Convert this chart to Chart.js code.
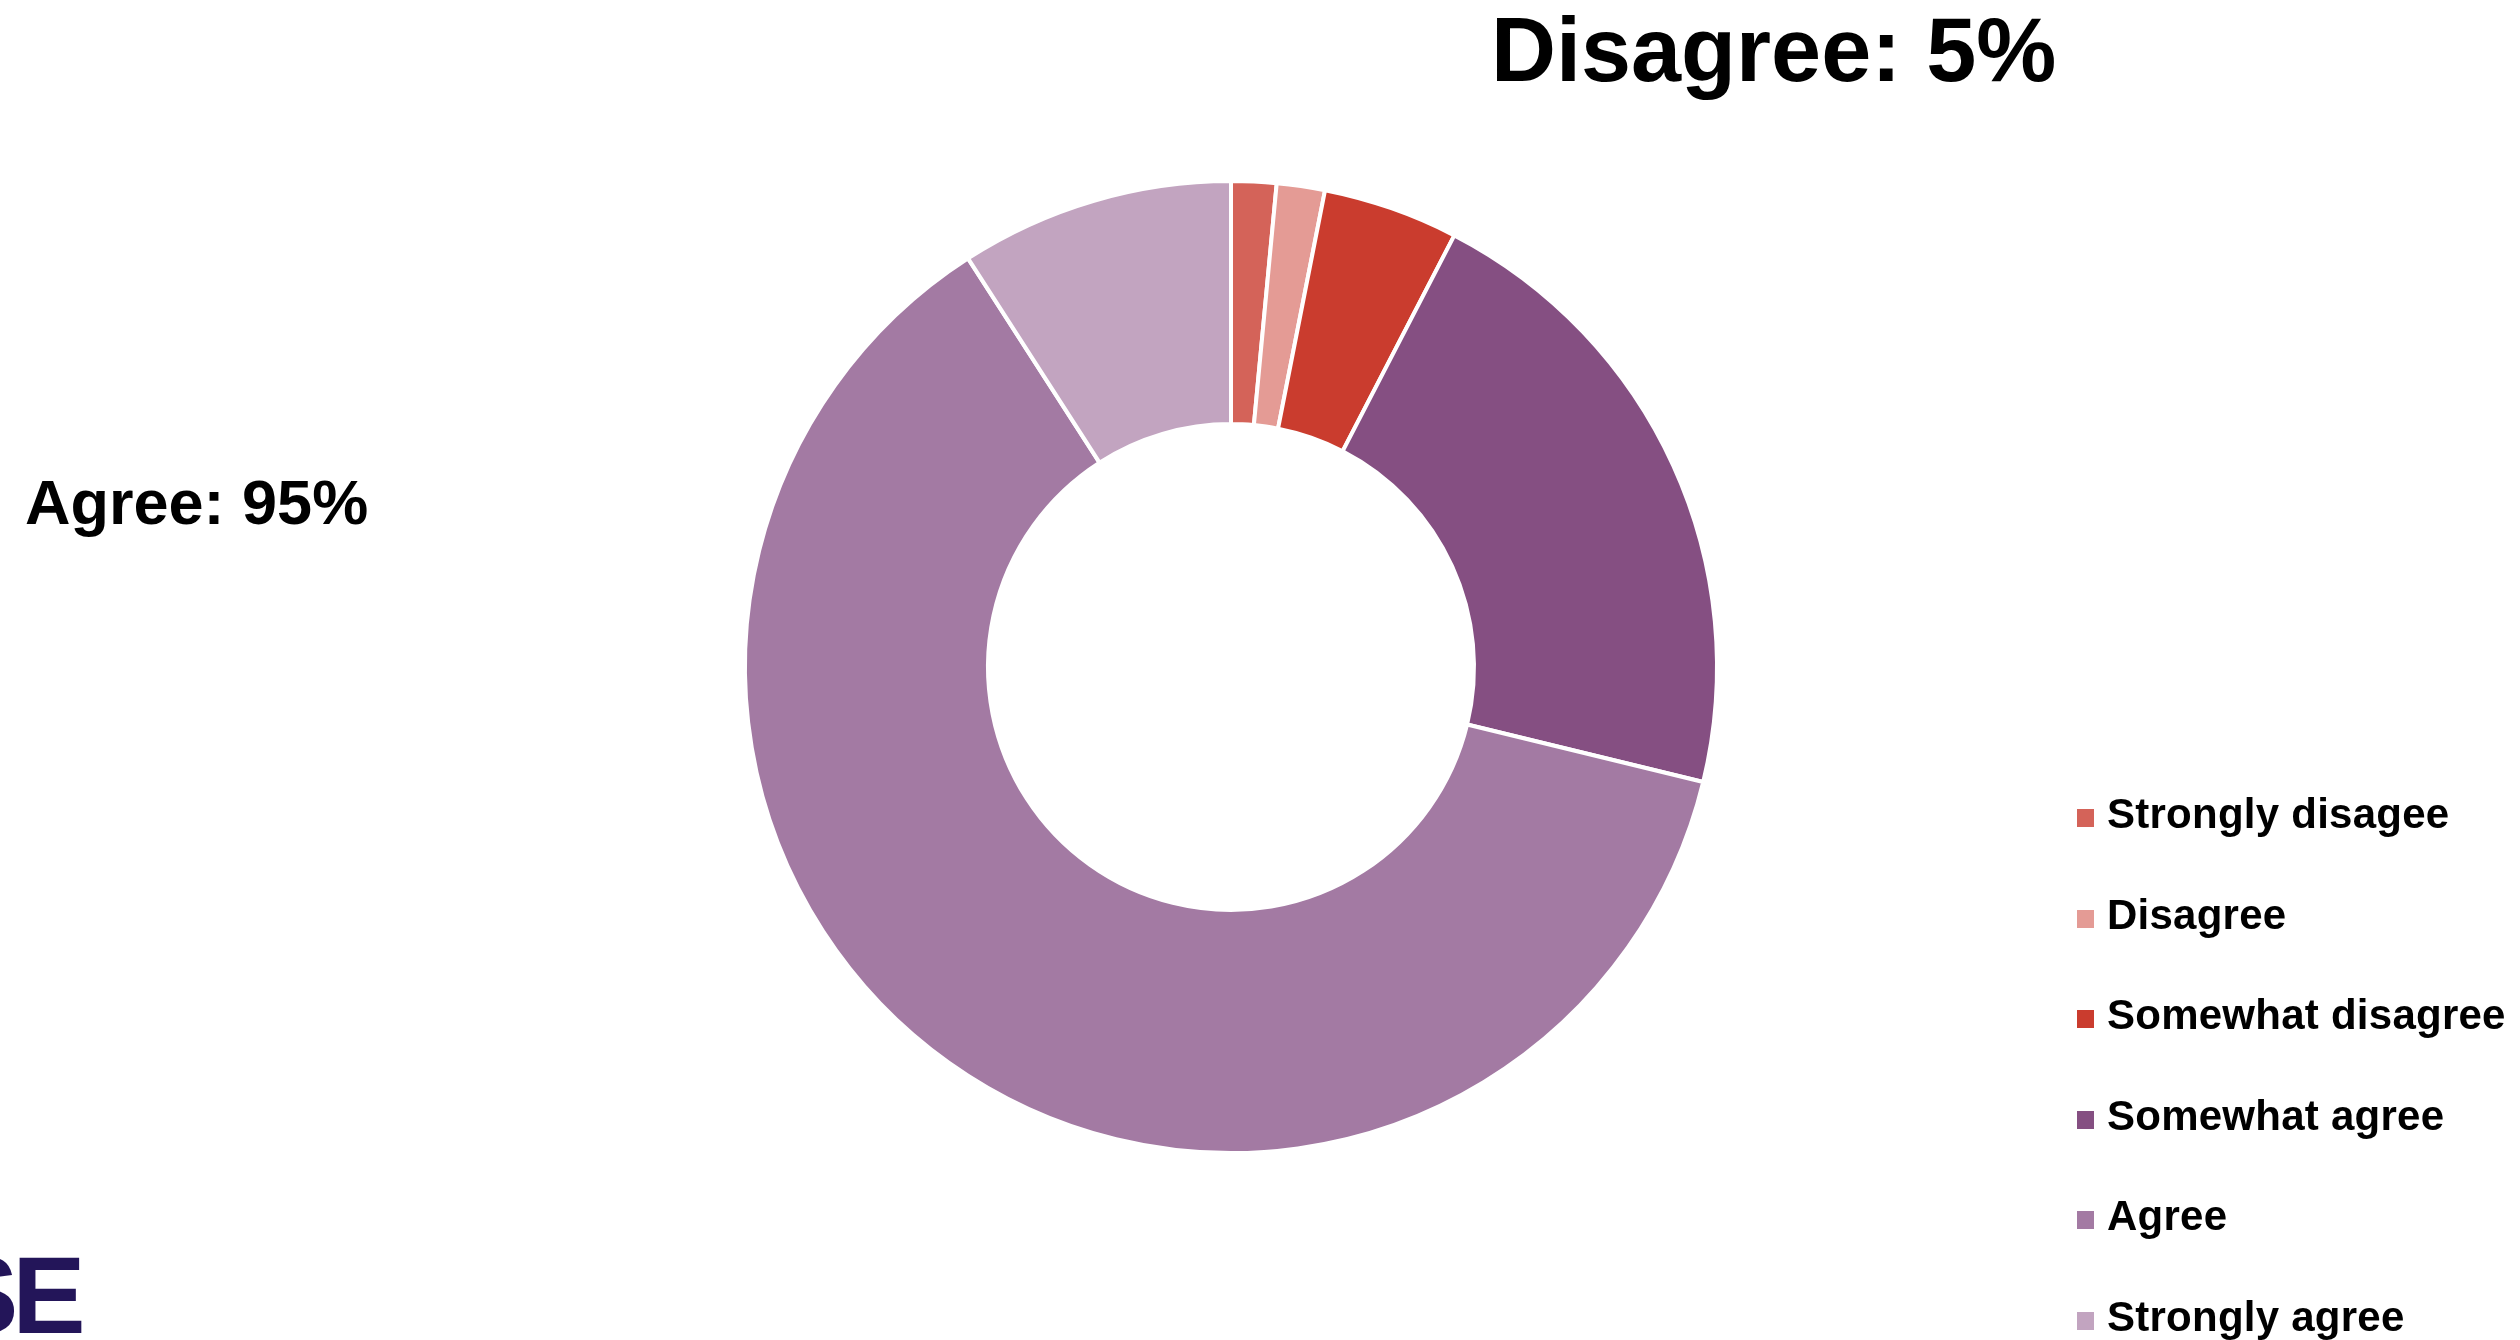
<!DOCTYPE html>
<html>
<head>
<meta charset="utf-8">
<script src="https://cdn.jsdelivr.net/npm/chart.js@4.4.1/dist/chart.umd.min.js"></script>
<style>
  html, body { margin: 0; padding: 0; background: #fff; overflow: hidden; }
  #wrap { position: relative; width: 2520px; height: 1340px; overflow: hidden; }
  #donut { position: absolute; left: 0; top: 0; }
  .lbl { position: absolute; font-family: "Liberation Sans", Arial, sans-serif; font-weight: bold; color: #000; line-height: 1; white-space: nowrap; }
  #disagreeTitle { left: 1491px; top: 5px; font-size: 90px; }
  #agreeTitle { left: 25px; top: 471px; font-size: 63px; }
  #logo { left: -55px; top: 1240px; font-size: 110px; color: #231559; letter-spacing: -6px; }
  #legend { position: absolute; left: 2077px; top: 793px; }
  .row { position: relative; height: 100.5px; }
  .sw { position: absolute; left: 0; top: 16px; width: 17px; height: 18px; }
  .txt { position: absolute; left: 30px; top: 0; font-family: "Liberation Sans", Arial, sans-serif; font-weight: bold;
         font-size: 42px; line-height: 1; letter-spacing: 0.25px; white-space: nowrap; color: #000; }
</style>
</head>
<body>
<div id="wrap">
  <canvas id="donut" width="2520" height="1340"></canvas>
  <div id="disagreeTitle" class="lbl"></div>
  <div id="agreeTitle" class="lbl"></div>
  <div id="logo" class="lbl">SE</div>
  <div id="legend"></div>
</div>
<script>
/* ============================================================
   DATA
============================================================ */
const categories = ["Strongly disagee", "Disagree", "Somewhat disagree", "Somewhat agree", "Agree", "Strongly agree"];
const shares = [1.5, 1.6, 4.5, 21.2, 62.1, 9.1];
const sliceColors = ["#D46359", "#E49B95", "#CA3C2E", "#854F82", "#A37AA3", "#C2A4C0"];
const disagreeTotal = "Disagree: 5%";
const agreeTotal = "Agree: 95%";

/* ============================================================
   Labels
============================================================ */
document.getElementById("disagreeTitle").textContent = disagreeTotal;
document.getElementById("agreeTitle").textContent = agreeTotal;

const legend = document.getElementById("legend");
categories.forEach((c, i) => {
    legend.innerHTML += `
    <div class="row">
        <span class="sw" style="background:${sliceColors[i]}"></span>
        <span class="txt">${c}</span>
    </div>`;
});

/* ============================================================
   Doughnut
============================================================ */
new Chart(document.getElementById("donut"), {
    type: "doughnut",
    data: {
        labels: categories,
        datasets: [{
            data: shares,
            backgroundColor: sliceColors,
            borderColor: "#ffffff",
            borderWidth: 4
        }]
    },
    options: {
        responsive: false,
        animation: false,
        cutout: "50%",
        layout: { padding: { left: 743, right: 801, top: 179, bottom: 185 } },
        plugins: {
            legend: { display: false },
            tooltip: { enabled: false }
        }
    }
});
</script>
</body>
</html>
